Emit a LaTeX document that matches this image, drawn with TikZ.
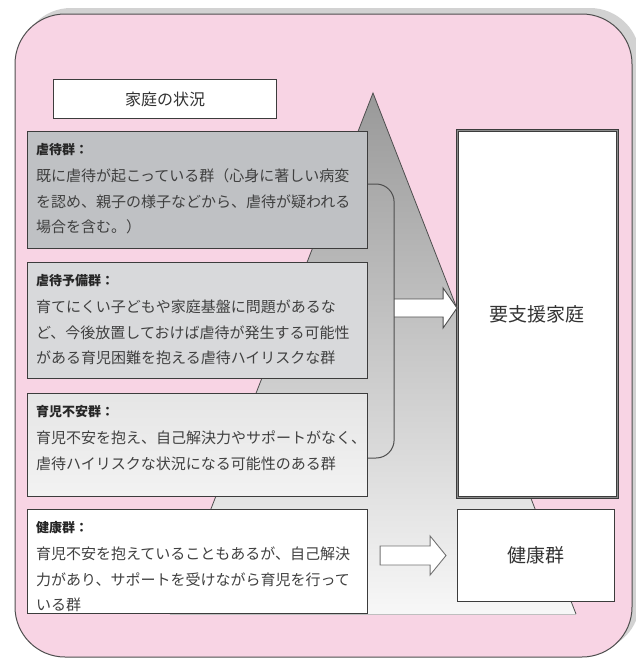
\documentclass[tikz,border=0pt]{standalone}
\usepackage{fontspec}
\newfontfamily\jpfont{Noto Sans CJK JP}
\usetikzlibrary{positioning, calc}

\definecolor{framepink}{HTML}{F8D4E4}
\definecolor{framegray}{HTML}{4E4E4E}
\definecolor{shadowgray}{HTML}{D2D2D2}
\definecolor{boxline}{HTML}{3C3C3C}
\definecolor{txtgray}{HTML}{404040}
\definecolor{abusefill}{HTML}{BFC1C4}
\definecolor{riskfill}{HTML}{D8D9DB}

\begin{document}
\begin{tikzpicture}[x=1pt,y=-1pt,
		grpbox/.style={draw=boxline, line width=1.1pt, anchor=north west, minimum width=340pt, inner sep=0pt},
		grptext/.style={anchor=north west, inner sep=0pt, align=left, text=txtgray, font=\jpfont\fontsize{15}{25.5}\selectfont},
		resbox/.style={draw=boxline, line width=1pt, fill=white, anchor=north west, inner sep=0pt, text=black!80, font=\jpfont\fontsize{19}{19}\selectfont},
		blockarrow/.style={draw=framegray, line width=0.9pt, fill=white, line join=miter}]
		\useasboundingbox (0,0) rectangle (635,664);
		% Pic
		% Frame with shadow
		\fill[shadowgray, rounded corners=50pt] (21,8) rectangle (640,651);
		\filldraw[fill=framepink, draw=framegray, line width=1pt, rounded corners=50pt] (15,14) rectangle (632,657);
		
		% triangle
		\shade[top color=black!40, middle color=black!27, bottom color=black!3] (373,93) -- (576,614) -- (170,614) -- cycle;
		\draw[framegray, line width=0.8pt] (170,614) -- (373,93) -- (576,614);
		\draw[black!25, line width=0.8pt] (170,614) -- (576,614);
		
		% heading
		\node[resbox, minimum width=223pt, minimum height=39pt, font=\jpfont\fontsize{16}{16}\selectfont] (situation) at (53,79) {家庭の状況};
		
		% groups
		\node[grpbox, fill=abusefill, minimum height=117pt] (abuse) at (27,131) {};
		\node[grpbox, fill=riskfill, minimum height=116pt] (risk) at (27,262) {};
		\node[grpbox, top color=black!10, bottom color=black!5, minimum height=103pt] (anxiety) at (27,393) {};
		\node[grpbox, fill=white, minimum height=104pt] (healthy) at (27,509) {};
		
		\node[grptext] (abusetxt) at ($(abuse.north west)+(9,12)$) {%
			{\color{black!85}\bfseries\fontsize{13}{13}\selectfont 虐待群：}\\[2pt]
			既に虐待が起こっている群（心身に著しい病変\\
			を認め、親子の様子などから、虐待が疑われる\\
			場合を含む。）};
		\node[grptext] (risktxt) at ($(risk.north west)+(9,12)$) {%
			{\color{black!85}\bfseries\fontsize{13}{13}\selectfont 虐待予備群：}\\[2pt]
			育てにくい子どもや家庭基盤に問題があるな\\
			ど、今後放置しておけば虐待が発生する可能性\\
			がある育児困難を抱える虐待ハイリスクな群};
		\node[grptext] (anxietytxt) at ($(anxiety.north west)+(9,12)$) {%
			{\color{black!85}\bfseries\fontsize{13}{13}\selectfont 育児不安群：}\\[2pt]
			育児不安を抱え、自己解決力やサポートがなく、\\
			虐待ハイリスクな状況になる可能性のある群};
		\node[grptext] (healthytxt) at ($(healthy.north west)+(9,12)$) {%
			{\color{black!85}\bfseries\fontsize{13}{13}\selectfont 健康群：}\\[2pt]
			育児不安を抱えていることもあるが、自己解決\\
			力があり、サポートを受けながら育児を行って\\
			いる群};
		
		% results
		\node[resbox, draw=boxline, line width=0.8pt, double=black!45, double distance=1.6pt, minimum width=160pt, minimum height=367pt] (support) at (457,130) {要支援家庭};
		\node[resbox, minimum width=157pt, minimum height=92pt] (hbox) at (457,509) {健康群};
		
		% bracket and arrows
		\coordinate (brk) at ($(abuse.north east)+(26,177)$);
		\filldraw[blockarrow] ($(brk)+(0,-9)$) -- ($(brk)+(49,-9)$) -- ($(brk)+(49,-20)$) -- (support.west |- brk) -- ($(brk)+(49,20)$) -- ($(brk)+(49,9)$) -- ($(brk)+(0,9)$);
		\draw[framegray, line width=1pt, rounded corners=18pt] ($(abuse.north east)+(0,53)$) -- ++(26,0) -- ($(anxiety.north east)+(26,65)$) -- ($(anxiety.north east)+(0,65)$);
		
		\coordinate (sarr) at (healthy.east |- hbox.west);
		\filldraw[blockarrow, draw=black!55] ($(sarr)+(12,-9.5)$) -- ++(50,0) -- ++(0,-10) -- ($(hbox.west)+(-11,0)$) -- ($(sarr)+(62,19.5)$) -- ++(0,-10) -- ($(sarr)+(12,9.5)$) -- cycle;
	\end{tikzpicture}
\end{document}
